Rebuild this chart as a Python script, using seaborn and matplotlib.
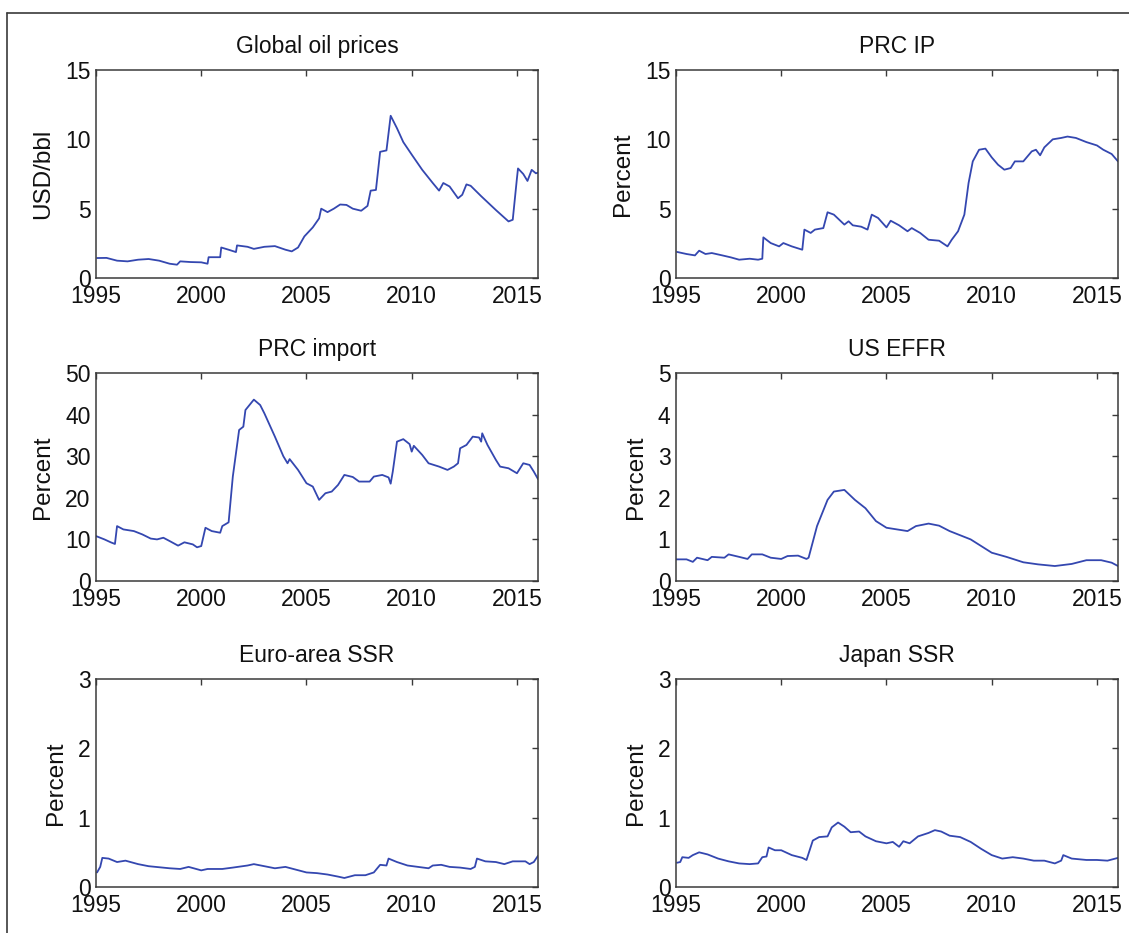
import matplotlib
matplotlib.use("Agg")
import matplotlib.pyplot as plt
from matplotlib.lines import Line2D
import seaborn as sns
import pandas as pd

# ---------------- data ----------------
oil_t = [1995.05, 1995.5, 1996.0, 1996.5, 1997.0, 1997.5, 1998.0, 1998.5, 1998.85, 1999.0,
         1999.5, 2000.0, 2000.3, 2000.35, 2000.9, 2000.95, 2001.3, 2001.65, 2001.7, 2002.2,
         2002.5, 2003.0, 2003.5, 2004.0, 2004.3, 2004.6, 2004.9, 2005.3, 2005.6, 2005.7,
         2006.0, 2006.3, 2006.6, 2006.9, 2007.2, 2007.6, 2007.9, 2008.05, 2008.3, 2008.5,
         2008.8, 2009.0, 2009.3, 2009.6, 2010.0, 2010.5, 2011.0, 2011.3, 2011.5, 2011.8,
         2012.2, 2012.4, 2012.6, 2012.8, 2013.3, 2014.0, 2014.6, 2014.8, 2015.0, 2015.05,
         2015.3, 2015.5, 2015.7, 2015.9, 2016.0]
oil_v = [1.44, 1.45, 1.25, 1.2, 1.32, 1.37, 1.25, 1.03, 0.96, 1.2,
         1.15, 1.13, 1.03, 1.5, 1.5, 2.2, 2.04, 1.87, 2.35, 2.25,
         2.1, 2.25, 2.3, 2.04, 1.92, 2.2, 3.0, 3.65, 4.3, 5.0,
         4.75, 5.0, 5.3, 5.27, 5.0, 4.85, 5.2, 6.3, 6.35, 9.1,
         9.2, 11.7, 10.8, 9.8, 8.9, 7.8, 6.85, 6.3, 6.85, 6.6,
         5.75, 6.0, 6.75, 6.65, 5.9, 4.9, 4.08, 4.2, 7.2, 7.9,
         7.5, 7.0, 7.8, 7.55, 7.6]

ip_t = [1995.05, 1995.5, 1995.9, 1996.1, 1996.4, 1996.7, 1997.2, 1997.6, 1998.0, 1998.5,
        1998.9, 1999.1, 1999.15, 1999.5, 1999.9, 2000.1, 2000.5, 2001.0, 2001.1, 2001.4,
        2001.6, 2002.0, 2002.2, 2002.5, 2003.0, 2003.2, 2003.4, 2003.8, 2004.1, 2004.3,
        2004.6, 2005.0, 2005.2, 2005.6, 2006.0, 2006.2, 2006.6, 2007.0, 2007.5, 2007.9,
        2008.1, 2008.4, 2008.7, 2008.9, 2009.1, 2009.4, 2009.7, 2010.0, 2010.3, 2010.6,
        2010.9, 2011.1, 2011.5, 2011.9, 2012.1, 2012.3, 2012.5, 2012.9, 2013.3, 2013.6,
        2014.0, 2014.5, 2015.0, 2015.3, 2015.7, 2016.0]
ip_v = [1.88, 1.73, 1.63, 1.97, 1.73, 1.8, 1.63, 1.49, 1.32, 1.39,
        1.32, 1.39, 2.93, 2.52, 2.28, 2.52, 2.28, 2.04, 3.49, 3.25,
        3.49, 3.6, 4.74, 4.57, 3.85, 4.09, 3.8, 3.7, 3.49, 4.57,
        4.33, 3.65, 4.13, 3.8, 3.37, 3.6, 3.25, 2.76, 2.69, 2.28,
        2.76, 3.37, 4.57, 6.85, 8.41, 9.25, 9.33, 8.7, 8.17, 7.81,
        7.93, 8.41, 8.41, 9.13, 9.25, 8.85, 9.42, 10.0, 10.1, 10.2,
        10.1, 9.8, 9.56, 9.25, 8.94, 8.41]

imp_t = [1995.0, 1995.4, 1995.7, 1995.9, 1996.0, 1996.3, 1996.8, 1997.2, 1997.6, 1997.9,
         1998.2, 1998.5, 1998.9, 1999.2, 1999.6, 1999.8, 2000.0, 2000.2, 2000.5, 2000.9,
         2001.0, 2001.3, 2001.5, 2001.8, 2002.0, 2002.1, 2002.5, 2002.8, 2003.0, 2003.5,
         2003.9, 2004.1, 2004.2, 2004.6, 2005.0, 2005.3, 2005.6, 2005.9, 2006.2, 2006.5,
         2006.8, 2007.2, 2007.5, 2008.0, 2008.2, 2008.6, 2008.9, 2009.0, 2009.1, 2009.3,
         2009.6, 2009.9, 2010.0, 2010.1, 2010.5, 2010.8, 2011.3, 2011.7, 2012.0, 2012.2,
         2012.3, 2012.6, 2012.9, 2013.2, 2013.3, 2013.35, 2013.6, 2014.0, 2014.2, 2014.6,
         2015.0, 2015.3, 2015.6, 2015.8, 2016.0]
imp_v = [10.8, 10.0, 9.3, 8.9, 13.2, 12.4, 12.0, 11.2, 10.2, 10.0,
         10.4, 9.6, 8.5, 9.3, 8.8, 8.1, 8.4, 12.8, 12.0, 11.6,
         13.2, 14.1, 25.1, 36.3, 37.1, 41.1, 43.6, 42.3, 40.3, 34.7,
         30.0, 28.3, 29.3, 26.7, 23.5, 22.7, 19.5, 21.1, 21.5, 23.1,
         25.5, 25.0, 23.9, 23.9, 25.1, 25.5, 24.9, 23.4, 26.3, 33.5,
         34.1, 32.9, 31.1, 32.5, 30.3, 28.3, 27.5, 26.7, 27.5, 28.3,
         31.9, 32.7, 34.7, 34.5, 33.5, 35.5, 32.7, 29.1, 27.5, 27.1,
         25.9, 28.3, 27.9, 26.3, 24.5]

effr_t = [1995.0, 1995.5, 1995.8, 1996.0, 1996.5, 1996.7, 1997.3, 1997.5, 1998.0, 1998.4,
          1998.6, 1999.1, 1999.5, 2000.0, 2000.3, 2000.8, 2001.2, 2001.3, 2001.7, 2002.2,
          2002.5, 2003.0, 2003.5, 2004.0, 2004.5, 2005.0, 2005.5, 2006.0, 2006.4, 2007.0,
          2007.5, 2008.0, 2009.0, 2010.0, 2010.7, 2011.5, 2012.2, 2013.0, 2013.8, 2014.5,
          2015.2, 2015.7, 2016.0]
effr_v = [0.52, 0.52, 0.46, 0.56, 0.5, 0.58, 0.56, 0.64, 0.58, 0.53,
          0.64, 0.64, 0.56, 0.53, 0.6, 0.61, 0.53, 0.56, 1.32, 1.95,
          2.15, 2.19, 1.95, 1.75, 1.44, 1.28, 1.24, 1.2, 1.32, 1.38,
          1.33, 1.2, 1.0, 0.68, 0.58, 0.45, 0.4, 0.36, 0.41, 0.5,
          0.5, 0.44, 0.36]

euro_t = [1995.05, 1995.2, 1995.3, 1995.6, 1996.0, 1996.4, 1997.0, 1997.5, 1998.5, 1999.0,
          1999.4, 2000.0, 2000.3, 2001.0, 2001.5, 2002.2, 2002.5, 2003.0, 2003.5, 2004.0,
          2004.5, 2005.0, 2005.5, 2006.0, 2006.5, 2006.8, 2007.3, 2007.8, 2008.2, 2008.5,
          2008.8, 2008.9, 2009.3, 2009.8, 2010.3, 2010.8, 2011.0, 2011.4, 2011.8, 2012.3,
          2012.8, 2013.0, 2013.1, 2013.5, 2014.0, 2014.4, 2014.8, 2015.4, 2015.6, 2015.8,
          2016.0]
euro_v = [0.21, 0.29, 0.42, 0.41, 0.36, 0.38, 0.33, 0.30, 0.27, 0.26,
          0.29, 0.24, 0.26, 0.26, 0.28, 0.31, 0.33, 0.30, 0.27, 0.29,
          0.25, 0.21, 0.20, 0.18, 0.15, 0.13, 0.17, 0.17, 0.21, 0.32,
          0.31, 0.41, 0.36, 0.31, 0.29, 0.27, 0.31, 0.32, 0.29, 0.28,
          0.26, 0.29, 0.41, 0.37, 0.36, 0.33, 0.37, 0.37, 0.33, 0.36,
          0.45]

jpn_t = [1995.05, 1995.2, 1995.3, 1995.6, 1995.8, 1996.1, 1996.5, 1997.0, 1997.5, 1998.0,
         1998.5, 1998.9, 1999.1, 1999.3, 1999.4, 1999.7, 2000.0, 2000.5, 2001.0, 2001.2,
         2001.5, 2001.8, 2002.2, 2002.4, 2002.7, 2003.0, 2003.3, 2003.7, 2004.0, 2004.5,
         2005.0, 2005.3, 2005.6, 2005.8, 2006.1, 2006.5, 2007.0, 2007.3, 2007.6, 2008.0,
         2008.5, 2009.0, 2009.5, 2010.0, 2010.5, 2011.0, 2011.5, 2012.0, 2012.5, 2013.0,
         2013.3, 2013.4, 2013.8, 2014.5, 2015.0, 2015.5, 2016.0]
jpn_v = [0.35, 0.36, 0.43, 0.42, 0.46, 0.50, 0.47, 0.41, 0.37, 0.34,
         0.33, 0.34, 0.43, 0.44, 0.57, 0.53, 0.53, 0.46, 0.42, 0.39,
         0.67, 0.72, 0.73, 0.86, 0.93, 0.87, 0.79, 0.80, 0.73, 0.66,
         0.63, 0.65, 0.58, 0.66, 0.63, 0.73, 0.78, 0.82, 0.80, 0.74,
         0.72, 0.65, 0.55, 0.46, 0.41, 0.43, 0.41, 0.38, 0.38, 0.34,
         0.38, 0.46, 0.41, 0.39, 0.39, 0.38, 0.42]

titles = ["Global oil prices", "PRC IP", "PRC import", "US EFFR", "Euro-area SSR", "Japan SSR"]
ylabels = ["USD/bbl", "Percent", "Percent", "Percent", "Percent", "Percent"]
yticks = [[0, 5, 10, 15], [0, 5, 10, 15], [0, 10, 20, 30, 40, 50],
          [0, 1, 2, 3, 4, 5], [0, 1, 2, 3], [0, 1, 2, 3]]
xticks = [1995, 2000, 2005, 2010, 2015]
series = [(oil_t, oil_v), (ip_t, ip_v), (imp_t, imp_v),
          (effr_t, effr_v), (euro_t, euro_v), (jpn_t, jpn_v)]

# ---------------- style ----------------
sns.set_style("white")
plt.rcParams['font.family'] = ['Liberation Sans', 'DejaVu Sans']
plt.rcParams['axes.linewidth'] = 1.1
LINE_COLOR = "#3447b0"
SPINE = "#3a3a3a"
TXT = "#111111"
FS = 16.5

fig = plt.figure(figsize=(11.29, 9.33), dpi=100)

W, H = 1129, 933
col_x = [96, 676]
row_top = [70, 373, 679]
ax_w, ax_h = 442, 208

for i, ((t, v), title, ylab, yt) in enumerate(zip(series, titles, ylabels, yticks)):
    r, c = divmod(i, 2)
    left = col_x[c] / W
    bottom = 1 - (row_top[r] + ax_h) / H
    ax = fig.add_axes([left, bottom, ax_w / W, ax_h / H])
    df = pd.DataFrame({"year": t, "value": v})
    sns.lineplot(data=df, x="year", y="value", ax=ax, color=LINE_COLOR,
                 linewidth=1.3, estimator=None, sort=True)
    ax.set_xlim(1995, 2016)
    ax.set_ylim(yt[0], yt[-1])
    ax.set_xticks(xticks)
    ax.set_yticks(yt)
    ax.tick_params(direction="in", length=4, width=1.0, top=True, right=True,
                   labelsize=FS, colors=SPINE, labelcolor=TXT)
    ax.tick_params(axis="x", pad=5)
    ax.tick_params(axis="y", pad=4)
    for s in ax.spines.values():
        s.set_color(SPINE)
        s.set_visible(True)
    ax.set_title(title, fontsize=FS, color=TXT, pad=12)
    ax.set_xlabel("")
    ax.set_ylabel(ylab, fontsize=FS + 1, color=TXT, labelpad=8)

# frame lines (top and left) around the figure
fig.add_artist(Line2D([7 / W, 1.0], [1 - 13 / H, 1 - 13 / H], transform=fig.transFigure,
                      color="#3a3a3a", linewidth=1.2))
fig.add_artist(Line2D([7 / W, 7 / W], [0.0, 1 - 13 / H], transform=fig.transFigure,
                      color="#3a3a3a", linewidth=1.2))

fig.savefig("out.png", dpi=100)
